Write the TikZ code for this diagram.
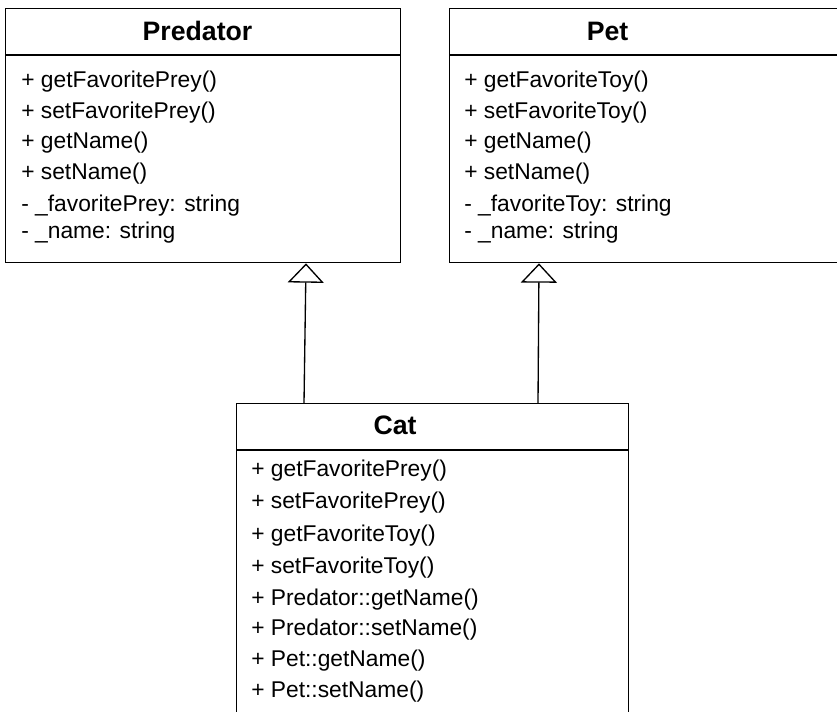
\documentclass[tikz,border=0pt]{standalone}
\usepackage{fontspec}
\setmainfont{Liberation Sans}
\usetikzlibrary{arrows.meta}
\begin{document}
\begin{tikzpicture}[x=0.75pt,y=-0.75pt,
  classbox/.style={draw=black, line width=1pt, fill=white, inner sep=0pt, anchor=north west},
  divider/.style={draw=black, line width=1pt},
  classname/.style={inner sep=0pt, anchor=base, font=\fontsize{20}{24}\selectfont\bfseries},
  member/.style={inner sep=0pt, anchor=base west, font=\fontsize{17.1}{20}\selectfont},
  inherit/.style={draw=black, line width=1pt,
    -{Triangle[open, length=14.5pt, width=27pt, line width=1pt]}}]
\useasboundingbox (0,0) rectangle (837,711);
\clip (0,0) rectangle (837,711);

% Predator
\node[classbox, minimum width=296.25pt, minimum height=190.5pt] (pred) at (5,8) {};
\draw[divider] (pred.north west) ++(0,47) -- ++(395,0);
\node[classname] (predname) at (197.5,40) {Predator};
\node[member] (pr1) at (21,87)  {+ getFavoritePrey()};
\node[member] (pr2) at (21,118) {+ setFavoritePrey()};
\node[member] (pr3) at (21,148) {+ getName()};
\node[member] (pr4) at (21,179) {+ setName()};
\node[member] (pr5) at (21,211) {- \_favoritePrey: string};
\node[member] (pr6) at (21,238) {- \_name: string};

% Pet (runs past the right edge)
\node[classbox, minimum width=303.75pt, minimum height=190.5pt] (pet) at (449,8) {};
\draw[divider] (pet.north west) ++(0,47) -- ++(405,0);
\node[classname] (petname) at (607.5,40) {Pet};
\node[member] (pe1) at (464,87)  {+ getFavoriteToy()};
\node[member] (pe2) at (464,118) {+ setFavoriteToy()};
\node[member] (pe3) at (464,148) {+ getName()};
\node[member] (pe4) at (464,179) {+ setName()};
\node[member] (pe5) at (464,211) {- \_favoriteToy: string};
\node[member] (pe6) at (464,238) {- \_name: string};

% Cat (runs past the bottom edge)
\node[classbox, minimum width=294pt, minimum height=255pt] (cat) at (236,403) {};
\draw[divider] (cat.north west) ++(0,47) -- ++(392,0);
\node[classname] (catname) at (395,434) {Cat};
\node[member] (c1) at (251,476) {+ getFavoritePrey()};
\node[member] (c2) at (251,508) {+ setFavoritePrey()};
\node[member] (c3) at (251,541) {+ getFavoriteToy()};
\node[member] (c4) at (251,573) {+ setFavoriteToy()};
\node[member] (c5) at (251,605) {+ Predator::getName()};
\node[member] (c6) at (251,635) {+ Predator::setName()};
\node[member] (c7) at (251,666) {+ Pet::getName()};
\node[member] (c8) at (251,697) {+ Pet::setName()};

% generalisation arrows
\draw[inherit] ([xshift=51pt]cat.north west) -- ([xshift=225.75pt]pred.south west);
\draw[inherit] ([xshift=226.5pt]cat.north west) -- ([xshift=67.5pt]pet.south west);
\end{tikzpicture}
\end{document}
